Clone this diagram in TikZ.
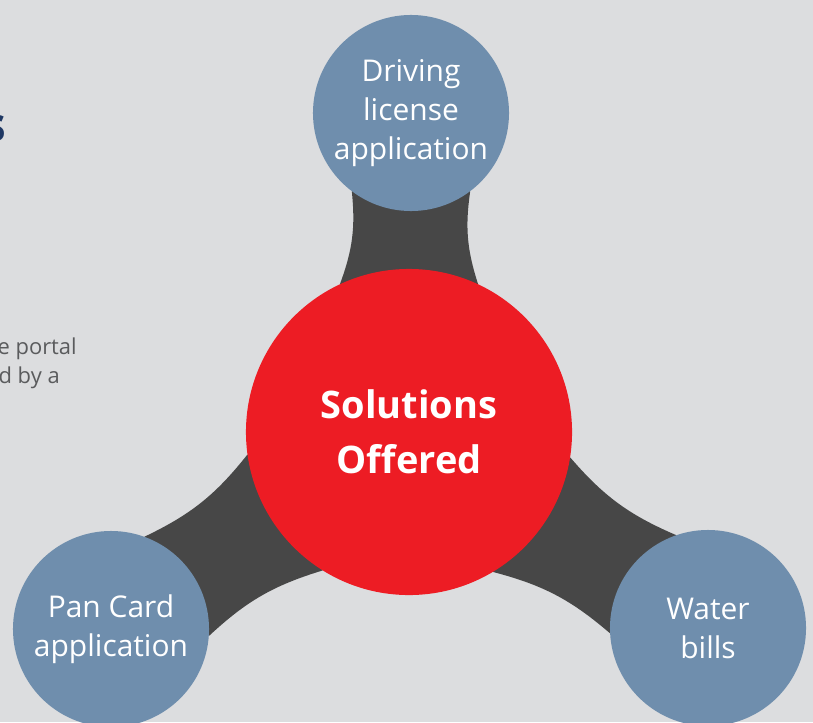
\documentclass[tikz,border=0pt]{standalone}
\usepackage{fontspec}
\setmainfont{Open Sans}
\usetikzlibrary{positioning}
\definecolor{bggray}{HTML}{DCDDDF}
\definecolor{solred}{HTML}{ED1C24}
\definecolor{itemblue}{HTML}{6F8EAD}
\definecolor{linkgray}{HTML}{474747}
\definecolor{titlenavy}{HTML}{1F3864}
\definecolor{textgray}{HTML}{5A5B5D}
\pgfdeclarelayer{back}
\pgfdeclarelayer{links}
\pgfsetlayers{back,links,main}

\begin{document}
\begin{tikzpicture}[x=0.025cm,y=-0.025cm,
  mynodered/.style={circle,fill=solred,text=white,minimum size=8.15cm,inner sep=0pt,align=center,font=\fontsize{27}{39}\selectfont\bfseries},
  mynodeblue/.style={circle,fill=itemblue,text=white,minimum size=4.9cm,inner sep=0pt,align=center,font=\fontsize{21.3}{27.7}\selectfont},
  mylink/.style={fill=linkgray},
  cuttext/.style={anchor=base east,inner sep=0pt}
]
\useasboundingbox (0,0) rectangle (813,722);
\clip (0,0) rectangle (813,722);
\begin{pgfonlayer}{back}
\fill[bggray] (0,0) rectangle (813,722);
\end{pgfonlayer}

% text cut off at the left edge
\node[cuttext,text=titlenavy,font=\fontsize{34}{40}\selectfont\bfseries] (ttl) at (7,141) {s};
\node[cuttext,text=textgray,font=\fontsize{15.6}{20}\selectfont] (desc1) at (77,354) {e portal};
\node[cuttext,text=textgray,font=\fontsize{15.6}{20}\selectfont] (desc2) at (60,383) {d by a};

\node[mynodered] (sol) at (409,432) {Solutions\\Offered};
\node[mynodeblue] (drv) at (411,113) {Driving\\license\\application};
\node[mynodeblue] (pan) at (111,629) {Pan Card\\application};
\node[mynodeblue] (wat) at (708,628) {Water\\bills};

\begin{pgfonlayer}{links}
\foreach \n/\a in {drv/90,pan/213.5,wat/326.8}{
\fill[mylink] (sol.center) -- (sol.{\a+25}) to[bend right=13] (\n.{\a+180-37})
  -- (\n.center) -- (\n.{\a+180+37}) to[bend right=13] (sol.{\a-25}) -- cycle;
}
\end{pgfonlayer}

\end{tikzpicture}
\end{document}
